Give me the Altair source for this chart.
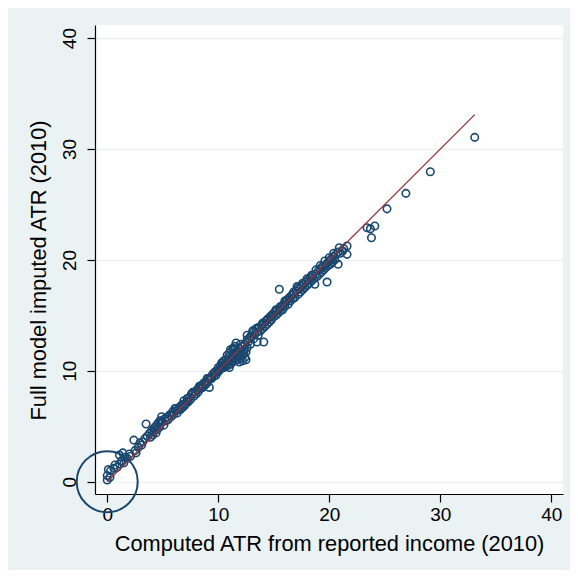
import altair as alt
import pandas as pd

# Observations: computed ATR (x) vs full model imputed ATR (y), 2010
pts_x = [
    0.0, 0.0, 0.1, 0.3, 0.25, 0.6, 0.7, 0.9, 1.1, 1.1, 1.3, 1.4, 1.5, 1.6, 1.8, 2.0, 2.1, 2.4, 2.5, 2.6, 2.8, 2.95, 3.1, 3.2,
    3.4, 3.5, 3.6, 3.8, 3.9, 4.0, 4.1, 4.2, 4.3, 4.4, 4.45, 4.5, 4.6, 4.7, 4.75, 4.8, 4.9, 5.0, 5.1, 5.2, 5.3, 5.4, 5.5,
    5.65, 5.8, 5.9, 6.0, 6.1, 6.2, 6.3, 6.4, 6.55, 6.6, 6.7, 6.8, 6.9, 7.0, 7.15, 7.2, 7.3, 7.4, 7.5, 7.6, 7.7, 7.8, 7.9, 8.0,
    8.1, 8.2, 8.3, 8.4, 8.5, 8.6, 8.7, 8.8, 8.9, 9.0, 9.1, 9.2, 9.2, 9.3, 9.4, 9.5, 9.6, 9.7, 9.8, 9.9, 10.0, 10.0, 10.1,
    10.2, 10.3, 10.3, 10.4, 10.5, 10.5, 10.6, 10.7, 10.7, 10.8, 10.9, 10.9, 11.0, 11.0, 11.1, 11.1, 11.2, 11.3, 11.3, 11.4,
    11.5, 11.5, 11.6, 11.6, 11.7, 11.8, 11.8, 11.9, 12.0, 12.0, 12.1, 12.2, 12.2, 12.3, 12.4, 12.4, 12.5, 12.6, 12.6, 12.7,
    12.8, 12.9,
    13.0, 13.1, 13.2, 13.3, 13.4, 13.5, 13.5, 13.6, 13.7, 13.8, 13.9, 14.0, 14.1, 14.1, 14.2, 14.3, 14.4, 14.5, 14.6, 14.7,
    14.8, 14.9, 15.0, 15.1, 15.2, 15.3, 15.4, 15.5, 15.5, 15.6, 15.7, 15.8, 15.9, 16.0,
    16.1, 16.2, 16.3, 16.4, 16.5, 16.6, 16.7, 16.8, 16.9, 17.0, 17.1, 17.2, 17.3, 17.4, 17.5, 17.6, 17.7, 17.8, 17.9, 18.0,
    18.1, 18.2, 18.3, 18.4, 18.5, 18.6, 18.7, 18.8, 18.9, 19.0, 19.1, 19.2, 19.3, 19.4, 19.5, 19.6, 19.7, 19.8, 19.8, 19.9,
    20.0, 20.1, 20.2, 20.3, 20.4, 20.5, 20.6, 20.8, 20.8, 21.0, 21.2, 21.3, 21.6, 21.6,
    23.4, 23.7, 24.1, 23.8, 25.2, 26.9, 29.1, 33.1,
    # extra points filling the band
    4.2, 4.9, 5.6, 6.2, 6.9, 7.6, 8.3, 9.0, 9.7, 10.4, 10.8, 11.2, 11.4, 11.7, 12.0, 12.3, 12.6, 12.9, 13.2, 13.6, 14.0,
    14.4, 14.8, 15.2, 15.6, 16.0, 16.4, 16.8, 17.2, 17.6, 18.0, 18.4, 18.8, 19.2, 19.6, 20.0, 20.4, 20.9, 11.0, 11.9, 12.5,
]
pts_y = [
    0.15, 0.55, 1.1, 1.0, 0.4, 1.2, 1.5, 1.3, 1.6, 2.4, 1.9, 2.6, 1.7, 2.2, 2.1, 2.5, 2.3, 3.75, 2.8, 2.6, 3.1, 3.5, 3.3, 3.6,
    3.9, 5.2, 4.1, 4.35, 4.0, 4.6, 4.2, 4.5, 4.9, 4.4, 5.1, 4.7, 5.3, 4.9, 5.5, 5.2, 5.85, 5.4, 5.1, 5.7, 5.5, 5.8, 5.6,
    6.0, 5.9, 6.3, 6.1, 6.6, 6.4, 6.2, 6.5, 6.75, 6.5, 6.9, 6.7, 7.0, 6.9, 7.2, 7.5, 7.2, 7.6, 7.4, 7.9, 8.05, 7.7, 8.1, 7.9,
    8.3, 8.1, 8.5, 8.4, 8.7, 8.5, 8.9, 8.7, 9.0, 8.9, 9.3, 8.5, 9.2, 9.4, 9.3, 9.7, 9.5, 9.8, 9.6, 10.0, 9.9, 10.3, 10.1,
    10.4, 10.2, 10.7, 10.5, 10.3, 10.9, 10.6, 10.4, 11.0, 10.8, 10.5, 11.2, 10.9, 11.6, 10.6, 11.9, 11.2, 12.0, 10.8, 11.5,
    12.2, 10.9, 11.7, 12.5, 11.0, 11.8, 11.3, 12.0, 11.1, 11.6, 12.2, 10.9, 11.4, 11.9, 11.2, 12.4, 11.7, 12.1, 13.2, 12.6,
    12.9, 12.4,
    13.1, 13.6, 12.9, 13.3, 13.8, 12.6, 13.5, 13.2, 13.9, 13.6, 14.1, 13.8, 12.6, 14.3, 14.0, 14.5, 14.2, 14.7, 14.4, 14.9,
    14.6, 15.1, 14.9, 15.3, 15.0, 15.5, 15.2, 17.35, 15.6, 15.4, 15.8, 15.5, 16.0, 15.8,
    16.2, 16.4, 16.0, 16.5, 16.3, 16.8, 16.5, 16.9, 16.6, 17.2, 17.6, 16.9, 17.4, 17.1, 17.6, 17.3, 17.8, 17.5, 18.0, 17.7,
    18.2, 17.9, 18.4, 18.1, 18.6, 18.3, 17.8, 18.7, 18.5, 19.0, 18.7, 19.2, 18.9, 19.4, 19.1, 19.5, 19.3, 18.0, 19.7, 19.5,
    19.9, 19.6, 20.1, 19.8, 20.3, 20.0, 20.5, 19.6, 20.7, 20.6, 20.8, 21.0, 21.25, 20.5,
    22.9, 22.8, 23.05, 22.0, 24.6, 26.0, 27.95, 31.05,
    4.8, 5.5, 6.0, 6.6, 7.3, 7.9, 8.6, 9.3, 9.9, 10.7, 11.4, 11.1, 12.0, 11.4, 12.4, 11.6, 12.8, 13.1, 13.5, 13.9, 14.3,
    14.6, 15.0, 15.5, 15.8, 16.3, 16.6, 17.1, 17.5, 17.9, 18.3, 18.6, 19.1, 19.5, 19.9, 20.2, 20.6, 21.1, 10.3, 10.8, 11.0,
]

# highlighted region around the origin
circle_x = [0]
circle_y = [0]

tick_values = [0, 10, 20, 30, 40]

NAVY = "#1A476F"
MAROON = "#90353B"
BG = "#EAF2F3"
FONT = "Liberation Sans"

pts = pd.DataFrame({"x": pts_x, "y": pts_y})
line_df = pd.DataFrame({"x": [min(pts_x), max(pts_x)], "y": [min(pts_x), max(pts_x)]})
circ = pd.DataFrame({"x": circle_x, "y": circle_y})

xscale = alt.Scale(domain=[-1.1, 41.05], nice=False, zero=False)
yscale = alt.Scale(domain=[-1.11, 41.18], nice=False, zero=False)

xaxis = alt.Axis(
    values=tick_values, grid=False, tickSize=8, tickColor="black", tickWidth=1.2,
    domainColor="black", domainWidth=1.2, labelFontSize=19, labelFont=FONT, labelColor="black",
    labelBaseline="alphabetic", labelAlign="center", labelPadding=18.7, labelFlush=False,
    labelOverlap=False,
    title="Computed ATR from reported income (2010)", titleFontSize=21.8, titleFont=FONT,
    titleFontWeight="normal", titleColor="black", titleBaseline="alphabetic", titleY=56,
)
yaxis = alt.Axis(
    values=tick_values, grid=True, gridColor=BG, gridWidth=1.6, tickSize=8, tickColor="black",
    tickWidth=1.2, domainColor="black", domainWidth=1.2, labelFontSize=19, labelFont=FONT,
    labelColor="black", labelAngle=270, labelAlign="center", labelBaseline="alphabetic",
    labelPadding=12, labelFlush=False, labelOverlap=False,
    title="Full model imputed ATR (2010)", titleFontSize=21.8, titleFont=FONT,
    titleFontWeight="normal", titleColor="black", titleAngle=270, titleBaseline="alphabetic",
    titleAlign="center", titleX=-50, titleY=245,
)

points = alt.Chart(pts).mark_point(
    shape="circle", filled=False, size=56, strokeWidth=1.6, color=NAVY, opacity=1
).encode(
    x=alt.X("x:Q", scale=xscale, axis=xaxis),
    y=alt.Y("y:Q", scale=yscale, axis=yaxis),
)

line = alt.Chart(line_df).mark_line(color=MAROON, strokeWidth=1.3).encode(
    x=alt.X("x:Q", scale=xscale),
    y=alt.Y("y:Q", scale=yscale),
)

ring = alt.Chart(circ).mark_point(
    shape="circle", filled=False, size=3721, strokeWidth=2, color=NAVY, opacity=1
).encode(
    x=alt.X("x:Q", scale=xscale),
    y=alt.Y("y:Q", scale=yscale),
)

chart = alt.layer(points, line, ring).properties(
    width=468,
    height=469,
    padding={"left": 87, "top": 17, "right": 7, "bottom": 76},
    autosize=alt.AutoSizeParams(type="none"),
    background=BG,
).configure_view(fill="white", strokeWidth=0)

chart.save("out.html", embed_options={"renderer": "svg", "actions": False})
